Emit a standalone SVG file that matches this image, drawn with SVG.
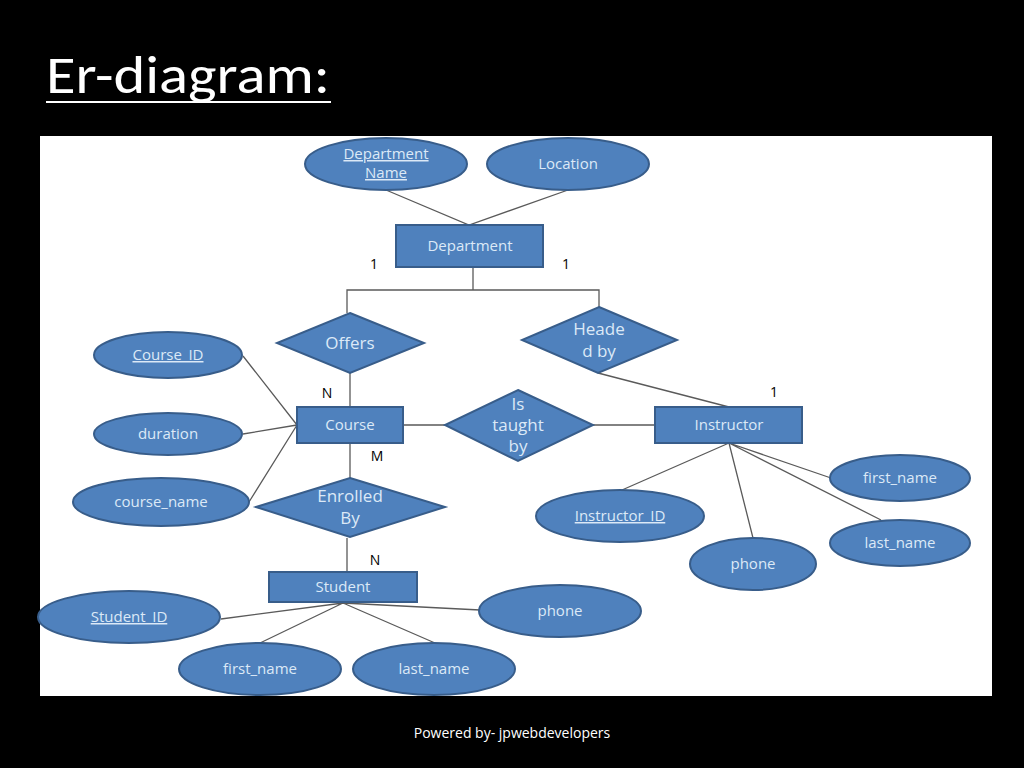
<svg xmlns="http://www.w3.org/2000/svg" width="1024" height="768" viewBox="0 0 1024 768">
<style>
.s{fill:#4f81bd;stroke:#385d8a;stroke-width:2}
.c{fill:none;stroke:#5a5a5a;stroke-width:1.3}
.l{font-family:"Open Sans","Liberation Sans",sans-serif;font-size:15px;fill:#dce9f7;text-anchor:middle}
.b{font-size:17px}
.n{font-family:"Open Sans","Liberation Sans",sans-serif;font-size:14px;fill:#000;text-anchor:middle}
</style>
<rect width="1024" height="768" fill="#000"/>
<text x="46" y="93" font-family="Carlito,'Open Sans','Liberation Sans',sans-serif" font-size="54" fill="#fff" textLength="284" lengthAdjust="spacingAndGlyphs">Er-diagram:</text>
<rect x="46" y="101" width="285" height="2" fill="#fff"/>
<rect x="40" y="136" width="952" height="560" fill="#fff"/>
<g id="connectors" class="c">
<path d="M386 190L469 225L568 190"/>
<path d="M473 267V290M347 313V290H599V307"/>
<path d="M350 373V407M598 373L729 407"/>
<path d="M243 356L297 425M243 434L297 425M249 502L297 425"/>
<path d="M403 425H445M592 425H655"/>
<path d="M350 443V478M347 538V572"/>
<path d="M729 443L622 490M729 443L753 538M729 443L881 520M729 443L831 478"/>
<path d="M343 603L221 619M343 603L260 643M343 603L435 643M343 603L480 610"/>
</g>
<g id="dept-name"><ellipse class="s" cx="386" cy="164" rx="81" ry="26"/><text class="l" x="386" y="159" text-decoration="underline">Department</text><text class="l" x="386" y="178" text-decoration="underline">Name</text></g>
<g id="location"><ellipse class="s" cx="568" cy="164" rx="81" ry="26"/><text class="l" x="568" y="169">Location</text></g>
<g id="department"><rect class="s" x="396" y="225" width="147" height="42"/><text class="l" x="470" y="251">Department</text></g>
<g id="offers"><polygon class="s" points="350,313 424,343 350,373 277,343"/><text class="l b" x="350" y="349">Offers</text></g>
<g id="headed-by"><polygon class="s" points="599,307 677,340 598,373 522,340"/><text class="l b" x="599" y="335">Heade</text><text class="l b" x="599" y="357">d by</text></g>
<g id="course-id"><ellipse class="s" cx="168" cy="355" rx="74" ry="23"/><text class="l" x="168" y="360" text-decoration="underline">Course_ID</text></g>
<g id="duration"><ellipse class="s" cx="168" cy="434" rx="74" ry="21"/><text class="l" x="168" y="439">duration</text></g>
<g id="course-name"><ellipse class="s" cx="161" cy="502" rx="88" ry="24"/><text class="l" x="161" y="507">course_name</text></g>
<g id="course"><rect class="s" x="297" y="407" width="106" height="36"/><text class="l" x="350" y="430">Course</text></g>
<g id="is-taught-by"><polygon class="s" points="518,390 593,425 518,461 445,425"/><text class="l b" x="518" y="410">Is</text><text class="l b" x="518" y="431">taught</text><text class="l b" x="518" y="452">by</text></g>
<g id="instructor"><rect class="s" x="655" y="407" width="147" height="36"/><text class="l" x="729" y="430">Instructor</text></g>
<g id="enrolled-by"><polygon class="s" points="350,478 445,507 350,537 256,507"/><text class="l b" x="350" y="502">Enrolled</text><text class="l b" x="350" y="524">By</text></g>
<g id="student"><rect class="s" x="269" y="572" width="148" height="30"/><text class="l" x="343" y="592">Student</text></g>
<g id="student-id"><ellipse class="s" cx="129" cy="617" rx="91" ry="26"/><text class="l" x="129" y="622" text-decoration="underline">Student_ID</text></g>
<g id="s-first"><ellipse class="s" cx="260" cy="669" rx="81" ry="26"/><text class="l" x="260" y="674">first_name</text></g>
<g id="s-last"><ellipse class="s" cx="434" cy="669" rx="81" ry="26"/><text class="l" x="434" y="674">last_name</text></g>
<g id="s-phone"><ellipse class="s" cx="560" cy="611" rx="81" ry="26"/><text class="l" x="560" y="616">phone</text></g>
<g id="instructor-id"><ellipse class="s" cx="620" cy="516" rx="84" ry="26"/><text class="l" x="620" y="521" text-decoration="underline">Instructor_ID</text></g>
<g id="i-phone"><ellipse class="s" cx="753" cy="564" rx="63" ry="26"/><text class="l" x="753" y="569">phone</text></g>
<g id="i-first"><ellipse class="s" cx="900" cy="478" rx="70" ry="23"/><text class="l" x="900" y="483">first_name</text></g>
<g id="i-last"><ellipse class="s" cx="900" cy="543" rx="70" ry="23"/><text class="l" x="900" y="548">last_name</text></g>
<g id="cardinalities">
<text class="n" x="374" y="269">1</text><text class="n" x="566" y="269">1</text>
<text class="n" x="327" y="398">N</text><text class="n" x="774" y="397">1</text>
<text class="n" x="377" y="461">M</text><text class="n" x="375" y="565">N</text>
</g>
<text x="512" y="738" font-family="Open Sans,Liberation Sans,sans-serif" font-size="14" fill="#fff" text-anchor="middle">Powered by- jpwebdevelopers</text>
</svg>
